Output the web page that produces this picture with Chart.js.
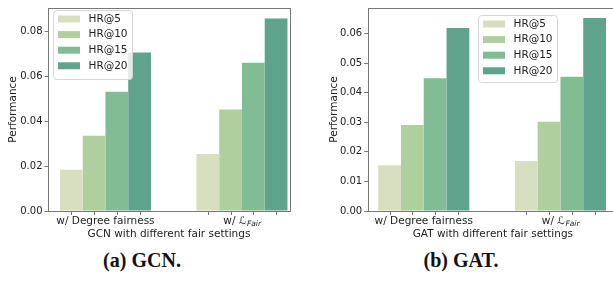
<!DOCTYPE html>
<html>
<head>
<meta charset="utf-8">
<script src="https://cdn.jsdelivr.net/npm/chart.js@4.4.1/dist/chart.umd.min.js"></script>
<style>
  body { margin: 0; width: 613px; height: 290px; overflow: hidden; position: relative; background: #fff; }
  canvas { position: absolute; top: 0; }
  #gcnChart { left: 0; }
  #gatChart { left: 300px; }
  .cap { position: absolute; top: 249px; font: bold 20px "Liberation Serif", serif; color: #111;
         transform: translateX(-50%); white-space: nowrap; }
</style>
</head>
<body>
<canvas id="gcnChart" width="300" height="245"></canvas>
<canvas id="gatChart" width="330" height="245"></canvas>
<div class="cap" style="left:142px">(a) GCN.</div>
<div class="cap" style="left:461px">(b) GAT.</div>
<script>
// data
const categories = ["w/ Degree fairness", "w/ L_Fair"];
const seriesNames = ["HR@5", "HR@10", "HR@15", "HR@20"];
const seriesColors = ["#d8dfc0", "#afcf9f", "#82bc94", "#5fa38d"];

const gcnHR5 = [0.0184, 0.0254];
const gcnHR10 = [0.0335, 0.0452];
const gcnHR15 = [0.0532, 0.0661];
const gcnHR20 = [0.0707, 0.0858];

const gatHR5 = [0.0155, 0.0169];
const gatHR10 = [0.0291, 0.0302];
const gatHR15 = [0.0449, 0.0454];
const gatHR20 = [0.0618, 0.0652];

const gcnTicks = [0, 0.02, 0.04, 0.06, 0.08];
const gatTicks = [0, 0.01, 0.02, 0.03, 0.04, 0.05, 0.06];

const AXIS = "#777";
const TXT = "#222";
const FONT = "DejaVu Sans";

// frame + small x ticks under every bar
const framePlugin = {
  id: "frame",
  afterDatasetsDraw(chart) {
    const { ctx, chartArea: a } = chart;
    ctx.save();
    ctx.strokeStyle = AXIS;
    ctx.lineWidth = 1;
    const l = Math.round(a.left) + 0.5, t = Math.round(a.top) + 0.5;
    const r = Math.round(a.right) + 0.5, b = Math.round(a.bottom) + 0.5;
    ctx.strokeRect(l, t, r - l, b - t);
    chart.data.datasets.forEach((ds, i) => {
      chart.getDatasetMeta(i).data.forEach((bar) => {
        const x = Math.round(bar.x) + 0.5;
        ctx.beginPath();
        ctx.moveTo(x, b);
        ctx.lineTo(x, b + 3.5);
        ctx.stroke();
      });
    });
    ctx.restore();
  },
  // the second category label gets a math-style subscript
  afterDraw(chart) {
    const { ctx } = chart;
    const xs = chart.scales.x;
    const size = 10.5;
    const x = xs.getPixelForValue(1);
    const y = xs.top + 4 + (size * 1.2) / 2;
    ctx.save();
    ctx.fillStyle = TXT;
    ctx.textBaseline = "middle";
    ctx.font = `${size}px "${FONT}"`;
    const p1 = "w/ ℒ";
    const w1 = ctx.measureText(p1).width;
    ctx.font = `italic ${size * 0.72}px "${FONT}"`;
    const p2 = "Fair";
    const w2 = ctx.measureText(p2).width;
    let sx = x - (w1 + w2) / 2;
    ctx.font = `${size}px "${FONT}"`;
    ctx.fillText(p1, sx, y);
    ctx.font = `italic ${size * 0.72}px "${FONT}"`;
    ctx.fillText(p2, sx + w1 + 0.5, y + 2.5);
    ctx.restore();
  },
};

// legend box drawn inside the axes
const boxLegend = {
  id: "boxLegend",
  afterDraw(chart, args, opts) {
    const { ctx } = chart;
    ctx.save();
    ctx.fillStyle = "rgba(255,255,255,0.8)";
    ctx.strokeStyle = "#d6d6d6";
    ctx.lineWidth = 1;
    ctx.beginPath();
    ctx.roundRect(opts.x + 0.5, opts.y + 0.5, opts.w, opts.h, 3);
    ctx.fill();
    ctx.stroke();
    ctx.font = `10.5px "${FONT}"`;
    ctx.textBaseline = "middle";
    chart.data.datasets.forEach((ds, i) => {
      const cy = opts.y + 9 + i * 15.6;
      ctx.fillStyle = ds.backgroundColor;
      ctx.fillRect(opts.x + 5, cy - 3.5, 22, 7);
      ctx.fillStyle = TXT;
      ctx.fillText(ds.label, opts.x + 35.5, cy);
    });
    ctx.restore();
  },
};

const makeChart = (canvasId, series, cfg) => {
  const datasets = series.map((vals, i) => ({
    label: seriesNames[i],
    data: vals.map((v, j) => ({ x: j, y: v })),
    backgroundColor: seriesColors[i],
    borderWidth: 0,
    categoryPercentage: 0.6667,
    barPercentage: 1.0,
  }));

  return new Chart(document.getElementById(canvasId).getContext("2d"), {
    type: "bar",
    data: { datasets },
    options: {
      responsive: false,
      animation: false,
      layout: { padding: { left: cfg.padLeft, right: cfg.padRight, top: 4, bottom: 4 } },
      plugins: {
        legend: { display: false },
        tooltip: { enabled: false },
        boxLegend: cfg.legend,
      },
      scales: {
        x: {
          type: "linear",
          offset: false,
          min: cfg.xMin,
          max: cfg.xMax,
          afterBuildTicks: (s) => { s.ticks = categories.map((c, i) => ({ value: i })); },
          afterFit: (s) => { s.height = 30; },
          grid: { display: false, drawTicks: false, offset: false },
          border: { display: false },
          ticks: {
            padding: 4,
            color: (c) => (c.index === 1 ? "rgba(0,0,0,0)" : TXT),
            font: { family: FONT, size: 10.5 },
            callback: (v, i) => categories[i],
          },
          title: {
            display: true, text: cfg.xTitle, color: TXT, padding: { top: 0, bottom: 0 },
            font: { family: FONT, size: 10.5 },
          },
        },
        y: {
          min: 0,
          max: cfg.yMax,
          afterFit: (s) => { s.width = cfg.yWidth; },
          afterBuildTicks: (s) => { s.ticks = cfg.yTicks.map((v) => ({ value: v })); },
          grid: { drawOnChartArea: false, tickLength: 3.5, color: AXIS },
          border: { display: false },
          ticks: {
            padding: 2,
            color: TXT,
            font: { family: FONT, size: 10 },
            callback: (v) => v.toFixed(2),
          },
          title: { display: true, text: "Performance", color: TXT, font: { family: FONT, size: 10.5 } },
        },
      },
    },
    plugins: [framePlugin, boxLegend],
  });
};

makeChart("gcnChart", [gcnHR5, gcnHR10, gcnHR15, gcnHR20], {
  padLeft: 3, padRight: 10, yWidth: 45,
  xMin: -0.421, xMax: 1.352, yMax: 0.0905, yTicks: gcnTicks,
  xTitle: "GCN with different fair settings",
  legend: { x: 53, y: 10, w: 79, h: 69 },
});

makeChart("gatChart", [gatHR5, gatHR10, gatHR15, gatHR20], {
  padLeft: 24, padRight: 12, yWidth: 43.7,
  xMin: -0.41, xMax: 1.421, yMax: 0.0686, yTicks: gatTicks,
  xTitle: "GAT with different fair settings",
  legend: { x: 178, y: 15, w: 79, h: 67 },
});
</script>
</body>
</html>
